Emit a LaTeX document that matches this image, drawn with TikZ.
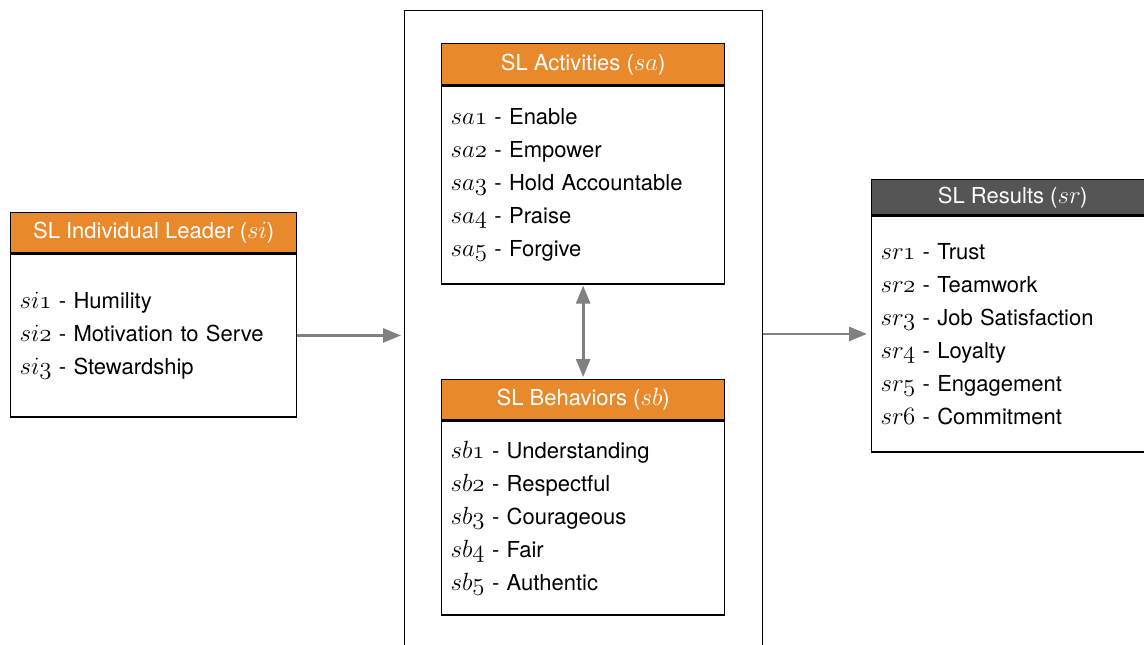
\documentclass[tikz,border=0pt]{standalone}
\usepackage{fontspec}
\setmainfont{TeX Gyre Heros}
\usetikzlibrary{arrows.meta}

\definecolor{slorange}{HTML}{E8892B}
\definecolor{slgray}{HTML}{555555}
\definecolor{flowgray}{HTML}{808080}

% italic item label with old-style figures
\newcommand{\lbl}[1]{{\fontencoding{OML}\fontfamily{cmm}\fontseries{m}\fontshape{it}\fontsize{27}{33}\selectfont #1}}

\tikzset{
  head/.style = {draw = black, line width = 1.3pt, fill = slorange, text = white,
    minimum height = 40pt, inner sep = 0pt, anchor = north west,
    font = \fontsize{22}{33}\selectfont},
  body/.style = {draw = black, line width = 1.3pt, fill = white, align = left,
    inner xsep = 9pt, inner ysep = 0pt, anchor = north west,
    font = \fontsize{22}{33}\selectfont},
  flow/.style = {draw = flowgray, line width = 2.7pt,
    -{Triangle[length = 18pt, width = 14pt]}},
}

\begin{document}
\begin{tikzpicture}[x = 1pt, y = -1pt]

\useasboundingbox (0,0) rectangle (1144,645);
\clip (0,0) rectangle (1144,645);

\node (core) [draw = black, line width = 1.3pt, minimum width = 358pt, minimum height = 700pt, anchor = north west, inner sep = 0pt] at (404,10) {};

\node (leaderhead) [head, minimum width = 286pt] at (10,212) {SL Individual Leader (\lbl{si})};
\node (leaderbody) [body, text width = 268pt, minimum height = 163pt] at (leaderhead.south west)
  {\lbl{si1} - Humility\\ \lbl{si2} - Motivation to Serve\\ \lbl{si3} - Stewardship};

\node (acthead) [head, minimum width = 283pt, minimum height = 41pt] at (441,43) {SL Activities (\lbl{sa})};
\node (actbody) [body, text width = 265pt, minimum height = 198pt] at (acthead.south west)
  {\lbl{sa1} - Enable\\ \lbl{sa2} - Empower\\ \lbl{sa3} - Hold Accountable\\ \lbl{sa4} - Praise\\ \lbl{sa5} - Forgive};

\node (behhead) [head, minimum width = 283pt] at (441,379) {SL Behaviors (\lbl{sb})};
\node (behbody) [body, text width = 265pt, minimum height = 194pt] at (behhead.south west)
  {\lbl{sb1} - Understanding\\ \lbl{sb2} - Respectful\\ \lbl{sb3} - Courageous\\ \lbl{sb4} - Fair\\ \lbl{sb5} - Authentic};

\node (resulthead) [head, fill = slgray, minimum width = 282pt, minimum height = 35pt] at (871,179) {SL Results (\lbl{sr})};
\node (resultbody) [body, text width = 264pt, minimum height = 236pt] at (resulthead.south west)
  {\lbl{sr1} - Trust\\ \lbl{sr2} - Teamwork\\ \lbl{sr3} - Job Satisfaction\\ \lbl{sr4} - Loyalty\\ \lbl{sr5} - Engagement\\ \lbl{sr6} - Commitment};

\draw [flow, shorten > = 3pt] (leaderbody.east) -- (leaderbody.east -| core.west);
\draw [flow, shorten > = 4pt] (core.east |- resultbody.west) -- (resultbody.west);
\draw [flow, {Triangle[length = 18pt, width = 14pt]}-{Triangle[length = 18pt, width = 14pt]}, shorten < = 1pt, shorten > = 2pt] (actbody.south) -- (behhead.north);

\end{tikzpicture}
\end{document}
